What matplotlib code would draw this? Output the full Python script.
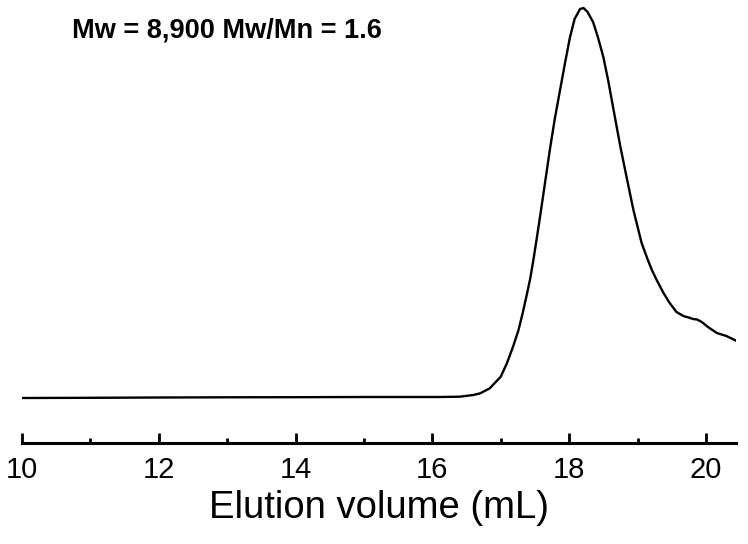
import matplotlib
matplotlib.use("Agg")
import matplotlib.pyplot as plt
from matplotlib.ticker import MultipleLocator

plt.rcParams['font.family'] = ['Liberation Sans', 'DejaVu Sans']

# Elution volume (mL) and detector response (arbitrary units)
volume = [10.0, 11.0, 12.0, 13.0, 14.0, 15.0, 16.0, 16.11, 16.40, 16.60, 16.70,
          16.84, 17.00, 17.09, 17.18, 17.26, 17.32, 17.38, 17.43, 17.48, 17.55,
          17.60, 17.72, 17.79, 17.87, 17.94, 18.01, 18.08, 18.16, 18.21, 18.27,
          18.35, 18.42, 18.50, 18.57, 18.65, 18.75, 18.84, 18.94, 19.06, 19.14,
          19.21, 19.28, 19.38, 19.47, 19.57, 19.67, 19.77, 19.81, 19.87, 19.94,
          20.03, 20.16, 20.30, 20.45]
signal = [-1.0, -0.8, -0.5, -0.3, -0.2, 0.0, 0.0, 0.0, 0.3, 2.0, 3.7,
          8.7, 20.3, 33.7, 50.3, 67, 83.7, 102, 118, 138, 169,
          192, 248, 278, 308, 334, 359, 378, 388, 389, 385,
          375, 360, 340, 317, 287, 250, 220, 187, 154, 139,
          127, 117, 104, 94, 85, 81, 79, 78, 77.5, 75,
          70, 64, 61, 56]

xticks = [10, 12, 14, 16, 18, 20]
annotation = "Mw = 8,900 Mw/Mn = 1.6"
xlabel = "Elution volume (mL)"

W, H = 748, 544
fig = plt.figure(figsize=(W / 100, H / 100), dpi=100)
ax = fig.add_axes([22 / W, (H - 443) / H, (736 - 22) / W, 443 / H])

ax.plot(volume, signal, color='black', lw=1.7, solid_joinstyle='round',
        solid_capstyle='round', antialiased=True)

ax.set_xlim(10, 20.44)
ax.set_ylim(-46, 397)

for s in ['left', 'right', 'top']:
    ax.spines[s].set_visible(False)
ax.spines['bottom'].set_linewidth(2.2)
ax.set_yticks([])
ax.set_xticks(xticks)
ax.xaxis.set_minor_locator(MultipleLocator(1))
ax.tick_params(axis='x', which='major', direction='in', length=7.5, width=2.0,
               labelsize=21, pad=9)
ax.tick_params(axis='x', which='minor', direction='in', length=3.8, width=2.0)
ax.set_xlabel(xlabel, fontsize=27.5, labelpad=5)

fig.text(72 / W, (H - 38) / H, annotation, fontsize=19.5, fontweight='bold',
         ha='left', va='baseline')

fig.savefig('out.png', dpi=100)
